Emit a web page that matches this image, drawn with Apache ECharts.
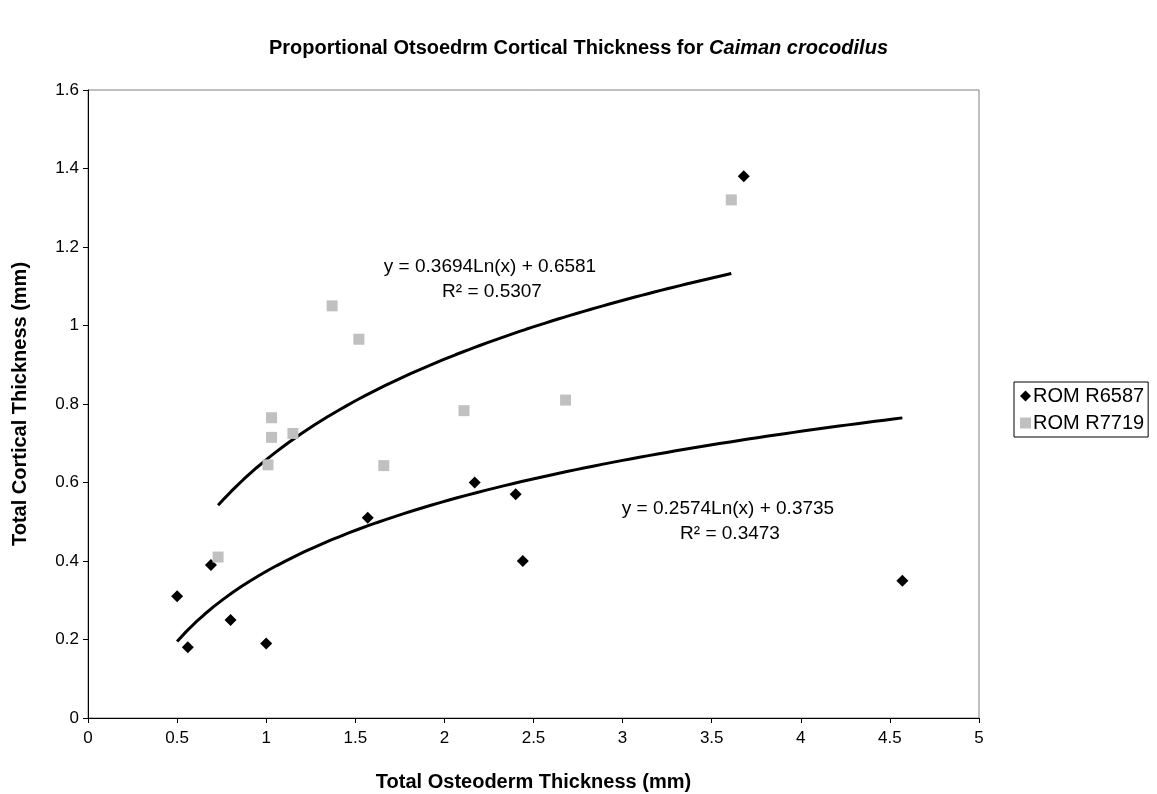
<!DOCTYPE html>
<html>
<head>
<meta charset="utf-8">
<script src="https://cdn.jsdelivr.net/npm/echarts@6/dist/echarts.min.js"></script>
<style>
html,body{margin:0;padding:0;background:#fff;}
#chart{width:1157px;height:794px;}
</style>
</head>
<body>
<div id="chart"></div>
<script>
// ---- data ----
var seriesNames = ['ROM R6587', 'ROM R7719'];
var r6587X = [0.50, 0.56, 0.69, 0.80, 1.00, 1.57, 2.17, 2.40, 2.44, 3.68, 4.57];
var r6587Y = [0.31, 0.18, 0.39, 0.25, 0.19, 0.51, 0.60, 0.57, 0.40, 1.38, 0.35];
var r7719X = [0.73, 1.01, 1.03, 1.03, 1.15, 1.37, 1.52, 1.66, 2.11, 2.68, 3.61];
var r7719Y = [0.41, 0.645, 0.715, 0.765, 0.725, 1.05, 0.965, 0.643, 0.783, 0.81, 1.32];
// logarithmic trendlines as printed on the chart: y = a*Ln(x) + b
var trend6587 = [0.2574, 0.3735];
var trend7719 = [0.3694, 0.6581];
var trendLabels6587 = ['y = 0.2574Ln(x) + 0.3735', 'R\u00b2 = 0.3473'];
var trendLabels7719 = ['y = 0.3694Ln(x) + 0.6581', 'R\u00b2 = 0.5307'];
var xTicks = [0, 0.5, 1, 1.5, 2, 2.5, 3, 3.5, 4, 4.5, 5];
var yTicks = [0, 0.2, 0.4, 0.6, 0.8, 1, 1.2, 1.4, 1.6];

function zip(xs, ys) { return xs.map(function (x, i) { return [x, ys[i]]; }); }
function trendCurve(coef, xs) {
  var lo = Math.min.apply(null, xs), hi = Math.max.apply(null, xs);
  var pts = [], n = 80;
  for (var i = 0; i <= n; i++) {
    var x = lo + (hi - lo) * i / n;
    pts.push([x, coef[0] * Math.log(x) + coef[1]]);
  }
  return pts;
}

var FONT = '"Liberation Sans", Arial, sans-serif';
var chart = echarts.init(document.getElementById('chart'), null, {renderer: 'canvas'});
chart.setOption({
  backgroundColor: '#ffffff',
  animation: false,
  title: {
    text: '{b|Proportional Otsoedrm Cortical Thickness for }{i|Caiman crocodilus}',
    left: 'center',
    top: 33,
    textStyle: {
      rich: {
        b: {fontFamily: FONT, fontSize: 20, fontWeight: 'bold', color: '#000'},
        i: {fontFamily: FONT, fontSize: 20, fontWeight: 'bold', fontStyle: 'italic', color: '#000'}
      }
    }
  },
  grid: {
    left: 88, right: 178, top: 90, bottom: 76,
    outerBoundsMode: 'none', containLabel: false,
    show: true, borderColor: '#808080', borderWidth: 1, backgroundColor: '#fff'
  },
  legend: {
    orient: 'vertical',
    left: 1014, top: 382,
    data: seriesNames,
    itemWidth: 11, itemHeight: 11, itemGap: 7,
    borderColor: '#000', borderWidth: 1,
    padding: [4, 4, 4, 6],
    textStyle: {fontFamily: FONT, fontSize: 20, color: '#000', padding: [0, 0, 0, -3]}
  },
  xAxis: {
    type: 'value', min: 0, max: 5, interval: 0.5,
    name: 'Total Osteoderm Thickness (mm)',
    nameLocation: 'middle', nameGap: 54,
    nameTextStyle: {fontFamily: FONT, fontSize: 20, fontWeight: 'bold', color: '#000'},
    axisLine: {show: true, onZero: false, lineStyle: {color: '#000', width: 1}},
    axisTick: {show: true, inside: false, length: 5, lineStyle: {color: '#000'}},
    axisLabel: {fontFamily: FONT, fontSize: 17, color: '#000', margin: 12,
      formatter: function (v) { return String(v); }},
    splitLine: {show: false}
  },
  yAxis: {
    type: 'value', min: 0, max: 1.6, interval: 0.2,
    name: 'Total Cortical Thickness (mm)',
    nameLocation: 'middle', nameGap: 58,
    nameTextStyle: {fontFamily: FONT, fontSize: 20, fontWeight: 'bold', color: '#000'},
    axisLine: {show: true, onZero: false, lineStyle: {color: '#000', width: 1}},
    axisTick: {show: true, inside: false, length: 5, lineStyle: {color: '#000'}},
    axisLabel: {fontFamily: FONT, fontSize: 17, color: '#000', margin: 9,
      formatter: function (v) { return String(Math.round(v * 10) / 10); }},
    splitLine: {show: false}
  },
  series: [
    {
      name: 'trend R7719', type: 'line', data: trendCurve(trend7719, r7719X),
      showSymbol: false, smooth: false, silent: true,
      lineStyle: {color: '#000', width: 3}, z: 3
    },
    {
      name: 'trend R6587', type: 'line', data: trendCurve(trend6587, r6587X),
      showSymbol: false, smooth: false, silent: true,
      lineStyle: {color: '#000', width: 3}, z: 3
    },
    {
      name: seriesNames[0], type: 'scatter', data: zip(r6587X, r6587Y),
      symbol: 'diamond', symbolSize: [12, 12],
      itemStyle: {color: '#000', opacity: 1}, z: 4
    },
    {
      name: seriesNames[1], type: 'scatter', data: zip(r7719X, r7719Y),
      symbol: 'rect', symbolSize: [11, 11],
      itemStyle: {color: '#c0c0c0', opacity: 1}, z: 4
    }
  ],
  graphic: [
    {type: 'text', x: 490, y: 267, style: {text: trendLabels7719[0], fontFamily: FONT, fontSize: 19, fill: '#000', align: 'center', verticalAlign: 'middle'}},
    {type: 'text', x: 492, y: 292, style: {text: trendLabels7719[1], fontFamily: FONT, fontSize: 19, fill: '#000', align: 'center', verticalAlign: 'middle'}},
    {type: 'text', x: 728, y: 509, style: {text: trendLabels6587[0], fontFamily: FONT, fontSize: 19, fill: '#000', align: 'center', verticalAlign: 'middle'}},
    {type: 'text', x: 730, y: 534, style: {text: trendLabels6587[1], fontFamily: FONT, fontSize: 19, fill: '#000', align: 'center', verticalAlign: 'middle'}}
  ]
});
</script>
</body>
</html>
